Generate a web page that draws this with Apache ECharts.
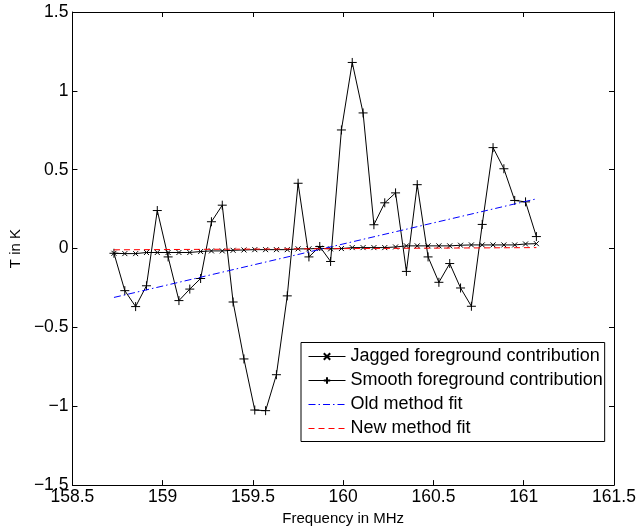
<!DOCTYPE html>
<html>
<head>
<meta charset="utf-8">
<script src="https://cdn.jsdelivr.net/npm/echarts@6/dist/echarts.min.js"></script>
<style>html,body{margin:0;padding:0;background:#fff;}#c{width:639px;height:531px;}</style>
</head>
<body>
<div id="c"></div>
<script>
var freq = [158.73,158.79,158.85,158.91,158.97,159.03,159.09,159.15,159.21,159.27,
            159.33,159.39,159.45,159.51,159.57,159.63,159.69,159.75,159.81,159.87,
            159.93,159.99,160.05,160.11,160.17,160.23,160.29,160.35,160.41,160.47,
            160.53,160.59,160.65,160.71,160.77,160.83,160.89,160.95,161.01,161.07];
var jagged = [-0.030,-0.032,-0.032,-0.025,-0.025,-0.025,-0.025,-0.025,-0.019,-0.015,
              -0.015,-0.011,-0.009,-0.007,-0.007,-0.007,-0.007,-0.002,-0.002,0.002,
              -0.002,0.000,0.006,0.006,0.006,0.006,0.010,0.017,0.017,0.017,
              0.017,0.017,0.021,0.023,0.023,0.023,0.023,0.023,0.029,0.031];
var smooth = [-0.03,-0.267,-0.368,-0.236,0.241,-0.053,-0.33,-0.257,-0.19,0.17,
              0.275,-0.339,-0.70,-1.024,-1.028,-0.80,-0.30,0.414,-0.053,0.013,
              -0.082,0.752,1.18,0.86,0.151,0.29,0.353,-0.145,0.405,-0.053,
              -0.214,-0.095,-0.25,-0.366,0.153,0.64,0.506,0.305,0.296,0.076];
var oldFitX = [158.73, 161.07];
var oldFitY = [-0.31, 0.315];
var newFitX = [158.73, 161.07];
var newFitY = [-0.008, 0.006];
var xTicks = [158.5, 159, 159.5, 160, 160.5, 161, 161.5];
var yTicks = [-1.5, -1, -0.5, 0, 0.5, 1, 1.5];
var seriesNames = ['Jagged foreground contribution','Smooth foreground contribution','Old method fit','New method fit'];
var xTitle = 'Frequency in MHz';
var yTitle = 'T in K';

function pairs(xs, ys){ return xs.map(function(x,i){ return [x, ys[i]]; }); }
var FONT = '"Liberation Sans", Arial, Helvetica, sans-serif';
var fmt = function(v){ return String(v).replace('-', '\u2212'); };

var chart = echarts.init(document.getElementById('c'), null, {renderer:'canvas'});
var axisLine = {show:true, onZero:false, lineStyle:{color:'#000', width:1}};
var tick = {show:true, inside:true, length:5, lineStyle:{color:'#000', width:1}};
var hiddenMark = {color:'rgba(0,0,0,0)', borderColor:'rgba(0,0,0,0)', borderWidth:0, opacity:0};
var blueLine = {color:'#0000ff', width:1, type:[7,3,1.5,3], opacity:1};
var redLine = {color:'#ff0000', width:1, type:[6,4], opacity:1};
chart.setOption({
  animation:false,
  backgroundColor:'#fff',
  grid:{left:70, right:25, top:12, bottom:43, containLabel:false},
  xAxis:[{
    type:'value', min:xTicks[0], max:xTicks[xTicks.length-1], interval:0.5,
    axisLine:axisLine, axisTick:tick, splitLine:{show:false},
    axisLabel:{color:'#000', fontSize:17.5, fontFamily:FONT, margin:3, formatter:fmt},
    name:xTitle, nameLocation:'middle', nameGap:25,
    nameTextStyle:{color:'#000', fontSize:15, fontFamily:FONT}
  },{
    type:'value', position:'top', min:xTicks[0], max:xTicks[xTicks.length-1], interval:0.5,
    axisLine:axisLine, axisTick:tick, splitLine:{show:false}, axisLabel:{show:false}
  }],
  yAxis:[{
    type:'value', min:yTicks[0], max:yTicks[yTicks.length-1], interval:0.5,
    axisLine:axisLine, axisTick:tick, splitLine:{show:false},
    axisLabel:{color:'#000', fontSize:17.5, fontFamily:FONT, margin:4, formatter:fmt},
    name:yTitle, nameLocation:'middle', nameGap:45,
    nameTextStyle:{color:'#000', fontSize:15, fontFamily:FONT}
  },{
    type:'value', position:'right', min:yTicks[0], max:yTicks[yTicks.length-1], interval:0.5,
    axisLine:axisLine, axisTick:tick, splitLine:{show:false}, axisLabel:{show:false}
  }],
  legend:{
    orient:'vertical', left:301, top:342.5,
    padding:[5,2,4,7], itemWidth:37, itemHeight:8, itemGap:6,
    borderColor:'#000', borderWidth:1, backgroundColor:'#fff',
    textStyle:{color:'#000', fontSize:18, fontFamily:FONT},
    data:[
      {name:seriesNames[0], lineStyle:{color:'#000', width:1}},
      {name:seriesNames[1], lineStyle:{color:'#000', width:1}},
      {name:seriesNames[2], itemStyle:hiddenMark, lineStyle:blueLine},
      {name:seriesNames[3], itemStyle:hiddenMark, lineStyle:redLine}
    ]
  },
  series:[{
    name:seriesNames[0], type:'line', data:pairs(freq, jagged),
    symbol:'path://M0,0L10,10M0,10L10,0', symbolSize:5,
    itemStyle:{color:'#000', borderColor:'#000', borderWidth:1},
    lineStyle:{color:'#000', width:1}, z:2
  },{
    name:seriesNames[1], type:'line', data:pairs(freq, smooth),
    symbol:'path://M5,0L5,10M0,5L10,5', symbolSize:9,
    itemStyle:{color:'#000', borderColor:'#000', borderWidth:1},
    lineStyle:{color:'#000', width:1}, z:3
  },{
    name:seriesNames[2], type:'line', data:pairs(oldFitX, oldFitY), showSymbol:false, symbol:'none',
    itemStyle:{color:'#0000ff'},
    lineStyle:blueLine, z:4
  },{
    name:seriesNames[3], type:'line', data:pairs(newFitX, newFitY), showSymbol:false, symbol:'none',
    itemStyle:{color:'#ff0000'},
    lineStyle:redLine, z:5
  }]
});
</script>
</body>
</html>
